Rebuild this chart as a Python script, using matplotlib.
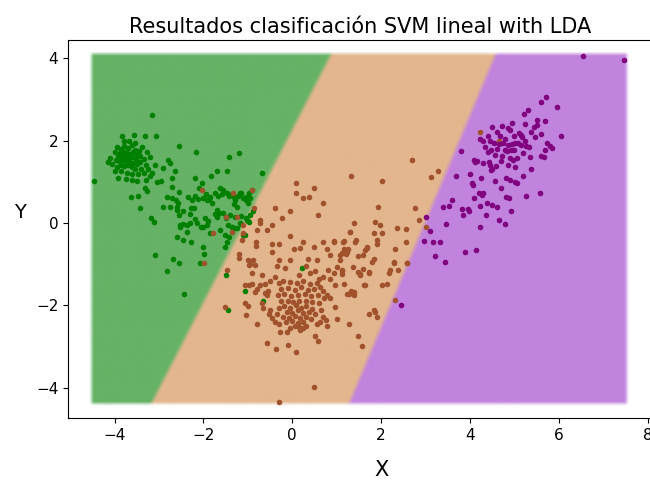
import numpy as np
import matplotlib
matplotlib.use("Agg")
import matplotlib.pyplot as plt

# puntos de cada clase (LDA, 2 componentes)
clase_0 = np.array([
    (-3.16, 2.63), (-3.84, 2.10), (-3.57, 2.14), (-3.31, 2.12), (-3.06, 2.10), (-2.54, 1.86),
    (-2.16, 1.73), (-1.42, 1.60), (-1.19, 1.71), (-0.68, 1.21), (-4.47, 1.03), (-2.18, 1.10),
    (-1.82, 1.14), (-1.70, 1.25), (-1.47, 1.27),
    (-3.95, 1.85), (-3.85, 1.80), (-3.78, 1.88), (-3.70, 1.82), (-3.62, 1.90), (-3.55, 1.78),
    (-3.88, 1.70), (-3.80, 1.72), (-3.72, 1.70), (-3.65, 1.68), (-3.58, 1.72), (-3.50, 1.65),
    (-3.92, 1.62), (-3.84, 1.60), (-3.76, 1.62), (-3.68, 1.58), (-3.60, 1.60), (-3.52, 1.55),
    (-3.44, 1.62), (-3.98, 1.52), (-3.90, 1.50), (-3.82, 1.52), (-3.74, 1.50), (-3.66, 1.48),
    (-3.58, 1.45), (-3.50, 1.42), (-3.42, 1.48), (-3.86, 1.40), (-3.78, 1.38), (-3.70, 1.40),
    (-3.62, 1.35), (-3.54, 1.32), (-3.35, 1.55), (-3.30, 1.40), (-3.40, 1.30), (-4.10, 1.58),
    (-4.05, 1.42), (-3.95, 1.35), (-3.85, 1.25), (-3.72, 1.22), (-3.60, 1.20), (-3.48, 1.18),
    (-3.35, 1.22), (-3.25, 1.30), (-3.20, 1.15), (-3.45, 1.75), (-3.38, 1.85), (-3.68, 2.00),
    (-3.80, 2.00), (-3.55, 1.95), (-4.00, 1.72), (-4.14, 1.49), (-3.92, 1.10), (-4.00, 1.25),
    (-3.75, 1.08), (-3.62, 1.05), (-3.50, 1.02), (-3.30, 1.05), (-3.15, 1.22), (-3.10, 1.40),
    (-3.20, 1.60), (-3.28, 1.72),
    (-2.79, 1.53), (-2.75, 1.45), (-2.64, 1.27), (-2.90, 1.33), (-2.71, 1.09), (-3.04, 1.00),
    (-2.95, 1.02), (-3.31, 0.85), (-3.28, 0.78), (-3.63, 0.64), (-3.48, 0.66), (-3.44, 0.36),
    (-3.18, 0.11), (-3.12, 0.03), (-2.81, 0.64), (-2.71, 0.87), (-2.56, 0.76), (-2.90, 0.40),
    (-2.75, 0.40), (-2.60, 0.40), (-2.56, 0.19), (-2.34, 0.64), (-2.26, 0.56), (-2.29, 0.36),
    (-2.21, 0.36), (-2.03, 0.98), (-2.10, 0.85), (-1.62, 0.84), (-1.55, 0.80), (-1.92, 0.56),
    (-1.85, 0.62), (-1.80, 0.48), (-1.32, 0.64), (-1.28, 0.55), (-1.32, 0.45), (-1.25, 0.40),
    (-1.10, 0.60), (-1.05, 0.55), (-1.00, 0.48), (-0.95, 0.60), (-1.70, 0.32), (-1.65, 0.25),
    (-1.96, 0.11), (-1.90, 0.05), (-2.52, -0.05), (-2.45, -0.02), (-2.38, -0.06),
    (-1.95, 0.70), (-1.75, 0.72), (-1.68, 0.65), (-1.58, 0.70), (-1.48, 0.72), (-1.42, 0.66),
    (-1.35, 0.70), (-1.22, 0.66), (-1.15, 0.72), (-1.05, 0.62), (-2.20, 0.65), (-2.12, 0.58),
    (-2.02, 0.60), (-1.88, 0.58), (-2.70, 0.60), (-2.62, 0.55), (-2.58, 0.48), (-2.60, 0.32),
    (-2.45, 0.28), (-2.30, 0.22), (-2.20, 0.10), (-2.15, 0.00), (-2.05, -0.10), (-1.75, 0.22),
    (-1.70, 0.15), (-1.55, 0.25), (-1.50, 0.12), (-1.40, 0.20), (-1.30, 0.15), (-1.15, 0.18),
    (-1.05, 0.12), (-1.00, 0.05), (-0.95, 0.20), (-0.88, 0.28), (-1.45, -0.05), (-1.35, -0.10),
    (-1.25, -0.12), (-1.15, -0.02),
    (-3.09, -0.78), (-2.81, -1.16), (-2.69, -0.88), (-2.54, -0.97), (-2.43, -1.73), (-2.07, -0.97),
    (-2.01, -0.59), (-1.98, -0.75), (-2.60, -0.33), (-2.45, -0.41), (-2.28, -0.46), (-2.37, -0.21),
    (-2.52, -0.09), (-2.30, -0.01), (-2.00, -0.09), (-1.85, -0.25), (-1.92, -0.05), (-1.62, -0.17),
    (-1.51, -0.29), (-1.51, -0.58), (-1.47, -0.45), (-1.43, -0.33), (-1.32, -0.13), (-1.17, -0.01),
    (-1.06, -0.29), (-0.98, 0.03), (-1.49, -1.27), (-1.07, -1.65), (-0.66, -1.90), (-1.45, -2.12),
    (0.22, -1.09), (-0.98, 0.72), (-0.91, 0.80), (-1.17, 0.72), (-1.02, 0.07), (-1.10, -0.29),
])

clase_1 = np.array([
    (-2.03, 0.80), (-1.34, 0.72), (-1.49, 0.15), (-0.87, 0.36), (-1.79, -0.25), (-1.36, -0.21),
    (-1.10, -0.24), (-1.98, -0.97), (-1.10, -0.05), (-1.51, -2.04), (-1.25, 0.15), (-0.91, 0.79),
    (1.32, 1.13), (0.09, 0.98), (0.48, 0.84), (0.09, 0.74), (0.25, 0.60), (0.37, 0.64),
    (0.70, 0.48), (-0.38, 0.36), (-0.05, 0.28), (0.59, 0.19), (1.40, 0.01), (1.31, -0.21),
    (-0.72, 0.07), (-0.72, 0.00), (-0.46, -0.05), (-0.23, 0.11), (-0.80, -0.17), (-0.57, -0.17),
    (-0.06, -0.32), (-0.81, -0.45), (-0.81, -0.55), (-1.13, -0.41), (-1.21, -0.74), (-1.19, -0.85),
    (-1.00, -0.90), (-0.95, -1.00), (-0.88, -0.90), (-0.85, -1.02), (-0.46, -0.50), (-0.31, -0.50),
    (-0.46, -0.70), (-0.31, -0.90), (0.03, -0.62), (0.18, -0.60), (0.25, -0.45), (0.48, -0.58),
    (0.70, -0.45), (0.93, -0.45), (0.78, -0.63), (1.15, -0.45), (1.23, -0.70), (1.08, -0.78),
    (1.42, -0.45), (1.69, -0.60), (1.60, -0.78), (0.56, -0.90), (0.36, -0.87), (-0.05, -0.90),
    (-0.16, -1.10), (0.41, -1.22), (0.52, -1.17), (0.81, -1.14), (0.95, -1.22), (1.12, -1.14),
    (1.37, -1.06), (1.47, -1.20), (1.60, -1.12), (-1.47, -1.14), (-0.61, -1.47), (-0.80, -1.59),
    (-0.98, -1.51),
    (2.03, 1.03), (3.12, 1.11), (3.28, 1.25), (1.94, 0.38), (2.77, 0.36), (2.85, 0.07),
    (3.00, -0.09), (1.87, 0.03), (1.98, -0.05), (1.29, -0.21), (1.83, -0.24), (2.02, -0.24),
    (2.36, -0.11), (2.57, -0.15), (0.93, -0.43), (1.17, -0.43), (1.43, -0.41), (1.91, -0.40),
    (1.91, -0.50), (1.68, -0.59), (1.64, -0.66), (2.55, -0.45), (2.32, -0.62), (1.16, -0.62),
    (1.25, -0.62), (1.12, -0.72), (1.20, -0.74), (0.86, -0.78), (1.08, -0.90), (1.49, -0.80),
    (1.83, -0.88), (2.28, -0.98), (2.58, -0.98), (2.20, -1.13), (2.17, -1.22), (2.39, -1.14),
    (1.01, -1.06), (1.12, -1.16), (1.72, -1.18), (1.53, -1.27), (1.64, -1.51), (2.02, -1.51),
    (2.13, -1.48), (0.86, -1.35), (0.97, -1.50), (1.16, -1.47), (1.27, -1.73), (1.40, -1.75),
    (1.32, -1.65), (0.97, -2.04), (2.32, -1.87), (1.83, -2.10), (2.70, 1.53), (4.23, 2.22),
    (4.65, 2.00),
    (1.80, -0.94), (2.28, -0.94), (2.58, -0.97), (1.53, -1.24), (1.72, -1.21), (1.12, -1.24),
    (1.23, -1.71), (1.38, -1.67), (1.61, -1.51), (0.78, -1.75), (0.85, -1.82), (0.72, -1.82),
    (1.72, -2.21), (1.87, -2.16), (1.90, -2.28), (0.78, -2.51), (1.00, -2.32), (1.27, -2.44),
    (1.49, -2.75), (1.57, -2.99), (0.59, -2.85), (0.52, -2.73), (0.48, -3.98), (-0.31, -4.33),
    (-0.57, -2.91), (-0.36, -3.05), (-0.10, -2.97), (0.09, -3.13), (-0.27, -2.64), (-0.12, -2.64),
    (0.18, -2.60), (0.25, -2.55), (0.32, -2.50), (0.70, -2.28), (0.75, -2.35), (0.62, -2.40),
    (-0.68, -1.95), (-0.65, -2.05), (-1.06, -1.95), (-1.00, -2.02), (-0.91, -1.22), (-0.68, -1.27),
    (-0.98, -1.02), (-1.06, -1.51), (-0.91, -1.47), (-0.72, -1.51), (-0.57, -1.75), (-0.55, -1.65),
    (-0.62, -1.70), (-0.83, -1.67), (-1.04, -2.22), (-0.80, -2.44), (-0.50, -2.12), (-0.52, -2.20),
    (-0.45, -2.30), (-0.40, -2.40),
    (-0.30, -1.45), (-0.20, -1.40), (-0.05, -1.42), (0.10, -1.45), (0.25, -1.40), (0.40, -1.48),
    (0.55, -1.45), (-0.25, -1.60), (-0.10, -1.58), (0.05, -1.62), (0.20, -1.55), (0.35, -1.62),
    (0.50, -1.60), (0.62, -1.55), (-0.32, -1.75), (-0.18, -1.72), (-0.02, -1.78), (0.12, -1.75),
    (0.28, -1.72), (0.42, -1.78), (0.58, -1.75), (-0.25, -1.90), (-0.10, -1.88), (0.02, -1.92),
    (0.15, -1.88), (0.30, -1.90), (0.45, -1.92), (0.60, -1.95), (-0.30, -2.05), (-0.18, -2.02),
    (-0.05, -2.05), (0.08, -2.00), (0.20, -2.05), (0.32, -2.02), (0.45, -2.08), (-0.12, -2.15),
    (0.00, -2.18), (0.12, -2.12), (0.25, -2.18), (0.38, -2.15), (0.52, -2.20), (-0.20, -2.28),
    (-0.08, -2.30), (0.05, -2.25), (0.18, -2.30), (0.30, -2.28), (0.42, -2.32), (-0.15, -2.40),
    (0.00, -2.38), (0.12, -2.42), (0.25, -2.40), (0.05, -2.50), (-0.05, -2.55), (0.15, -2.52),
    (-0.35, -2.20), (-0.30, -2.45), (0.55, -2.45), (0.65, -2.10), (0.70, -1.65),
    (0.70, -1.30), (0.60, -1.35), (-0.40, -1.30), (-0.50, -1.40), (-0.35, -1.05), (0.15, -1.25),
    (0.30, -1.05),
])

clase_2 = np.array([
    (6.54, 4.05), (7.48, 3.95), (5.72, 3.06), (5.59, 2.93), (5.96, 2.81), (5.31, 2.75),
    (5.21, 2.65), (5.68, 2.48), (5.51, 2.38), (5.44, 2.33), (5.25, 2.41), (4.95, 2.43),
    (4.72, 2.36), (4.85, 2.30), (4.91, 2.25), (4.50, 2.33), (5.14, 2.14), (5.18, 2.08),
    (5.10, 2.18), (5.38, 2.20), (5.47, 2.09), (6.06, 2.12), (5.73, 1.95), (5.81, 1.86),
    (5.85, 1.82), (5.70, 1.78), (5.59, 1.63), (5.66, 1.60), (4.22, 2.04), (4.29, 2.00),
    (4.40, 2.10), (4.45, 2.00), (4.55, 1.95), (4.65, 1.92), (4.75, 1.95), (4.85, 1.90),
    (4.95, 1.92), (5.02, 1.95), (5.08, 1.93), (5.15, 1.90), (5.27, 1.88), (5.33, 1.85),
    (4.79, 1.78), (4.84, 1.75), (4.92, 1.76), (4.99, 1.78), (4.41, 1.73), (4.47, 1.78),
    (3.81, 1.75), (4.44, 1.49), (4.57, 1.65), (4.72, 1.63), (4.91, 1.58), (5.06, 1.58),
    (4.96, 1.52), (4.10, 1.53), (4.17, 1.50), (4.29, 1.45), (4.45, 1.40), (4.50, 1.32),
    (4.58, 1.38), (4.48, 1.29), (5.02, 1.36), (5.38, 1.31), (3.69, 1.13), (4.05, 0.97),
    (4.08, 0.93), (4.56, 1.02), (4.82, 1.09), (4.91, 1.05), (5.02, 1.00), (5.06, 0.97),
    (4.29, 0.72), (4.27, 0.68), (4.82, 0.64), (4.87, 0.60), (5.27, 0.66), (5.57, 0.72),
    (3.39, 0.40), (3.52, 0.41), (3.82, 0.33), (3.96, 0.33), (4.23, 0.41), (4.38, 0.48),
    (4.50, 0.44), (4.61, 0.40), (3.84, 0.19), (3.97, 0.30), (4.37, 0.19), (4.93, 0.29),
    (4.65, 0.07), (4.80, -0.02), (3.45, -0.02), (3.02, 0.15), (3.11, -0.20), (4.22, -0.09),
    (2.96, -0.43), (3.17, -0.45), (3.33, -0.47), (3.22, -0.80), (3.43, -0.94), (3.90, -0.70),
    (4.14, -0.66), (2.45, -2.00), (4.11, 1.49), (4.21, 0.72),
    (4.60, 2.20), (4.68, 2.12), (4.80, 2.05), (5.00, 2.10), (5.25, 2.00), (4.35, 1.85),
    (4.60, 1.80), (5.20, 1.70), (5.35, 1.60), (4.70, 1.50), (4.85, 1.40), (5.60, 2.15),
    (5.50, 2.50), (4.00, 1.20), (4.25, 1.10), (4.70, 0.85), (5.20, 1.15), (3.60, 0.55),
    (4.10, 0.60),
])

# fronteras de decision del SVM lineal: (x arriba, x abajo) del mallado
frontera_01 = (0.90, -3.20)
frontera_12 = (4.60, 1.26)

col_puntos = ["green", "sienna", "purple"]
col_zonas = np.array([[102, 178, 102], [227, 182, 142], [193, 131, 222]]) / 255.0

todos = np.vstack([clase_0, clase_1, clase_2])
x_min, x_max = todos[:, 0].min() - 0.1, todos[:, 0].max() + 0.1
y_min, y_max = todos[:, 1].min() - 0.1, todos[:, 1].max() + 0.1

h = 0.02
xx, yy = np.meshgrid(np.arange(x_min, x_max, h), np.arange(y_min, y_max, h))
t = (yy - y_min) / (y_max - y_min)
x01 = frontera_01[1] + t * (frontera_01[0] - frontera_01[1])
x12 = frontera_12[1] + t * (frontera_12[0] - frontera_12[1])
w = 0.12
a = np.clip(0.5 + (xx - x01) / w, 0, 1)[..., None]
b = np.clip(0.5 + (xx - x12) / w, 0, 1)[..., None]
rgb = (1 - a) * col_zonas[0] + a * ((1 - b) * col_zonas[1] + b * col_zonas[2])
borde = 0.1
alpha = (np.clip((xx - x_min) / borde, 0, 1) * np.clip((x_max - xx) / borde, 0, 1)
         * np.clip((yy - y_min) / borde, 0, 1) * np.clip((y_max - yy) / borde, 0, 1))
img = np.dstack([rgb, alpha])

fig = plt.figure(figsize=(6.5, 4.84), dpi=100)
ax = fig.add_axes([68 / 650, 66 / 484, 624 / 650, 378 / 484])
ax.imshow(img, origin="lower", extent=(x_min, x_max, y_min, y_max),
          aspect="auto", interpolation="bilinear", zorder=1)

for pts, c in zip([clase_0, clase_1, clase_2], col_puntos):
    ax.scatter(pts[:, 0], pts[:, 1], s=16, c=c, linewidths=0, zorder=2)

ax.set_xlim(-5.05, 9.0)
ax.set_ylim(-4.73, 4.44)
ax.set_xticks([-4, -2, 0, 2, 4, 6, 8])
ax.set_yticks([-4, -2, 0, 2, 4])
ax.tick_params(labelsize=11)
ax.set_title("Resultados clasificación SVM lineal with LDA", fontsize=15, x=0.468, pad=5)
ax.set_xlabel("X", fontsize=15)
ax.set_ylabel("Y", fontsize=14, rotation=0)
ax.yaxis.set_label_coords(-0.077, 0.518)
ax.xaxis.set_label_coords(0.503, -0.111)

plt.savefig("out.png", dpi=100)
